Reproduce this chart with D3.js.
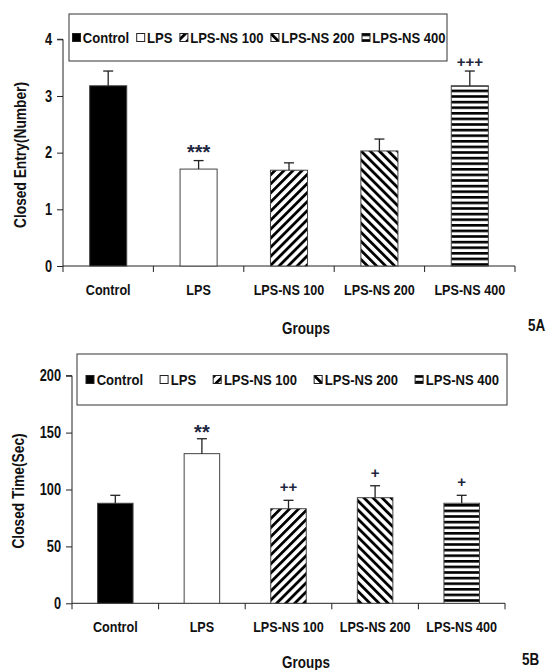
<!DOCTYPE html>
<html><head><meta charset="utf-8">
<script src="https://cdn.jsdelivr.net/npm/d3@7"></script>
<style>
html,body{margin:0;padding:0;background:#fff;}
text{font-family:"Liberation Sans",Arial,sans-serif;font-weight:bold;fill:#111;}
</style></head>
<body>
<svg id="c" width="547" height="670"></svg>
<script>
const categories = ["Control","LPS","LPS-NS 100","LPS-NS 200","LPS-NS 400"];
const entryMeans = [3.18, 1.71, 1.69, 2.03, 3.18];
const entryErrors = [0.26, 0.15, 0.13, 0.21, 0.26];
const entrySig = ["", "***", "", "", "+++"];
const entryTicks = [0,1,2,3,4];
const timeMeans = [87.9, 131.5, 83.1, 92.8, 87.9];
const timeErrors = [7.0, 13.1, 7.4, 10.5, 7.0];
const timeSig = ["", "**", "++", "+", "+"];
const timeTicks = [0,50,100,150,200];
const fills = ["#000","#fff","url(#pFwd)","url(#pBack)","url(#pHor)"];

const NARROW = 0.84;
function narrow(sel, f){
  sel.each(function(){
    const L = this.getComputedTextLength();
    this.setAttribute("textLength", L*(f||NARROW));
    this.setAttribute("lengthAdjust","spacingAndGlyphs");
  });
  return sel;
}

const svg = d3.select("#c");
const defs = svg.append("defs");
function linePattern(id, angle, period, thick){
  const p = defs.append("pattern").attr("id",id).attr("patternUnits","userSpaceOnUse")
    .attr("width",period).attr("height",period).attr("patternTransform",`rotate(${angle})`);
  p.append("rect").attr("width",period).attr("height",period).attr("fill","#fff");
  p.append("rect").attr("x",0).attr("y",0).attr("width",thick).attr("height",period).attr("fill","#000");
}
linePattern("pFwd",45,6.4,2.8);
linePattern("pBack",-45,6.4,2.8);
linePattern("pHor",90,5.6,2.6);

function drawChart(cfg){
  const g = svg.append("g");
  const x = d3.scaleBand().domain(categories).range([cfg.x0,cfg.x1]).paddingInner(0.59).paddingOuter(0.295);
  const y = d3.scaleLinear().domain([0,cfg.ymax]).range([cfg.yb,cfg.yt]);
  // y axis
  const ya = g.append("g").attr("transform",`translate(${cfg.x0},0)`)
    .call(d3.axisLeft(y).tickValues(cfg.ticks).tickSize(6).tickPadding(5).tickFormat(d3.format("d")));
  ya.select(".domain").attr("stroke","#222").attr("d",`M-6,${cfg.yt}H0V${cfg.yb}`);
  ya.selectAll(".tick line").attr("stroke","#222");
  ya.selectAll(".tick text").attr("font-size",16).attr("font-family",null).attr("fill","#111");
  narrow(ya.selectAll(".tick text"), 0.8);
  // x axis line & boundary ticks
  const bounds = categories.map(c=>x(c) - x.step()*x.paddingOuter()).concat([cfg.x1]);
  g.append("line").attr("x1",cfg.x0).attr("x2",cfg.x1).attr("y1",cfg.yb).attr("y2",cfg.yb).attr("stroke","#222");
  g.selectAll(".bt").data(bounds).join("line").attr("x1",d=>d).attr("x2",d=>d)
    .attr("y1",cfg.yb).attr("y2",cfg.yb+6).attr("stroke","#222");
  narrow(g.selectAll(".xl").data(categories).join("text")
    .attr("x",d=>x(d)+x.bandwidth()/2).attr("y",cfg.yb+29).attr("text-anchor","middle")
    .attr("font-size",15).text(d=>d));
  // bars
  g.selectAll(".bar").data(cfg.means).join("rect")
    .attr("x",(d,i)=>x(categories[i])).attr("width",x.bandwidth())
    .attr("y",d=>y(d)).attr("height",d=>y(0)-y(d))
    .attr("fill",(d,i)=>fills[i]).attr("stroke","#444").attr("stroke-width",1);
  // error bars
  const cxf = i=>x(categories[i])+x.bandwidth()/2;
  const eb = g.selectAll(".eb").data(cfg.means).join("g");
  eb.append("line").attr("x1",(d,i)=>cxf(i)).attr("x2",(d,i)=>cxf(i))
    .attr("y1",d=>y(d)).attr("y2",(d,i)=>y(d+cfg.errs[i])).attr("stroke","#222").attr("stroke-width",1.3);
  eb.append("line").attr("x1",(d,i)=>cxf(i)-5).attr("x2",(d,i)=>cxf(i)+5)
    .attr("y1",(d,i)=>y(d+cfg.errs[i])).attr("y2",(d,i)=>y(d+cfg.errs[i])).attr("stroke","#222").attr("stroke-width",1.3);
  // significance (placed by visual centre above the error cap)
  g.selectAll(".sig").data(cfg.sig).join("text")
    .attr("x",(d,i)=>cxf(i))
    .attr("y",(d,i)=>{
      const top = y(cfg.means[i]+cfg.errs[i]);
      return d.includes("*") ? top - cfg.astGap + 11 : top - cfg.plusGap + 5;
    })
    .attr("text-anchor","middle").attr("font-size",d=>d.includes("*")?20:15)
    .style("fill","#1d2540").text(d=>d);
  // y title
  narrow(g.append("text").attr("transform",`translate(${cfg.ytx},${cfg.ytc}) rotate(-90)`)
    .attr("text-anchor","middle").attr("dy","0.35em").attr("font-size",16).text(cfg.ytitle), 0.86);
  narrow(g.append("text").attr("x",306).attr("y",cfg.gy).attr("text-anchor","middle").attr("dy","0.35em").attr("font-size",16).text("Groups"));
  narrow(g.append("text").attr("x",cfg.tagx).attr("y",cfg.gy-3).attr("dy","0.35em").attr("font-size",16).text(cfg.tag));
  // legend
  const lg = g.append("g");
  lg.append("rect").attr("x",cfg.lx).attr("y",cfg.ly).attr("width",cfg.lw).attr("height",cfg.lh)
    .attr("fill","#fff").attr("stroke","#333").attr("stroke-width",1);
  let cx = cfg.lstart;
  const cy = cfg.ly+cfg.lh/2;
  categories.forEach((c,i)=>{
    lg.append("rect").attr("x",cx).attr("y",cy-4).attr("width",8).attr("height",8)
      .attr("fill",fills[i]).attr("stroke","#222").attr("stroke-width",1);
    const t = lg.append("text").attr("x",cx+cfg.loff).attr("y",cy).attr("dy","0.35em").attr("font-size",15).text(c);
    const w = t.node().getComputedTextLength()*0.87;
    t.attr("textLength",w).attr("lengthAdjust","spacingAndGlyphs");
    cx += cfg.loff + w + cfg.lgap;
  });
}

drawChart({x0:63,x1:515,yb:266,yt:39.3,ymax:4,ticks:entryTicks,means:entryMeans,errs:entryErrors,sig:entrySig,astGap:13,plusGap:9,
  ytitle:"Closed Entry(Number)",ytx:20,ytc:155,gy:328,tag:"5A",tagx:528,
  lx:69,ly:14,lw:378,lh:47,lstart:72.5,loff:10.3,lgap:7.5});
drawChart({x0:72,x1:505,yb:603.3,yt:375.7,ymax:200,ticks:timeTicks,means:timeMeans,errs:timeErrors,sig:timeSig,astGap:10.5,plusGap:13,
  ytitle:"Closed Time(Sec)",ytx:18,ytc:491,gy:662,tag:"5B",tagx:522,
  lx:77,ly:354,lw:430,lh:51,lstart:86,loff:10.7,lgap:17});
</script>
</body></html>
